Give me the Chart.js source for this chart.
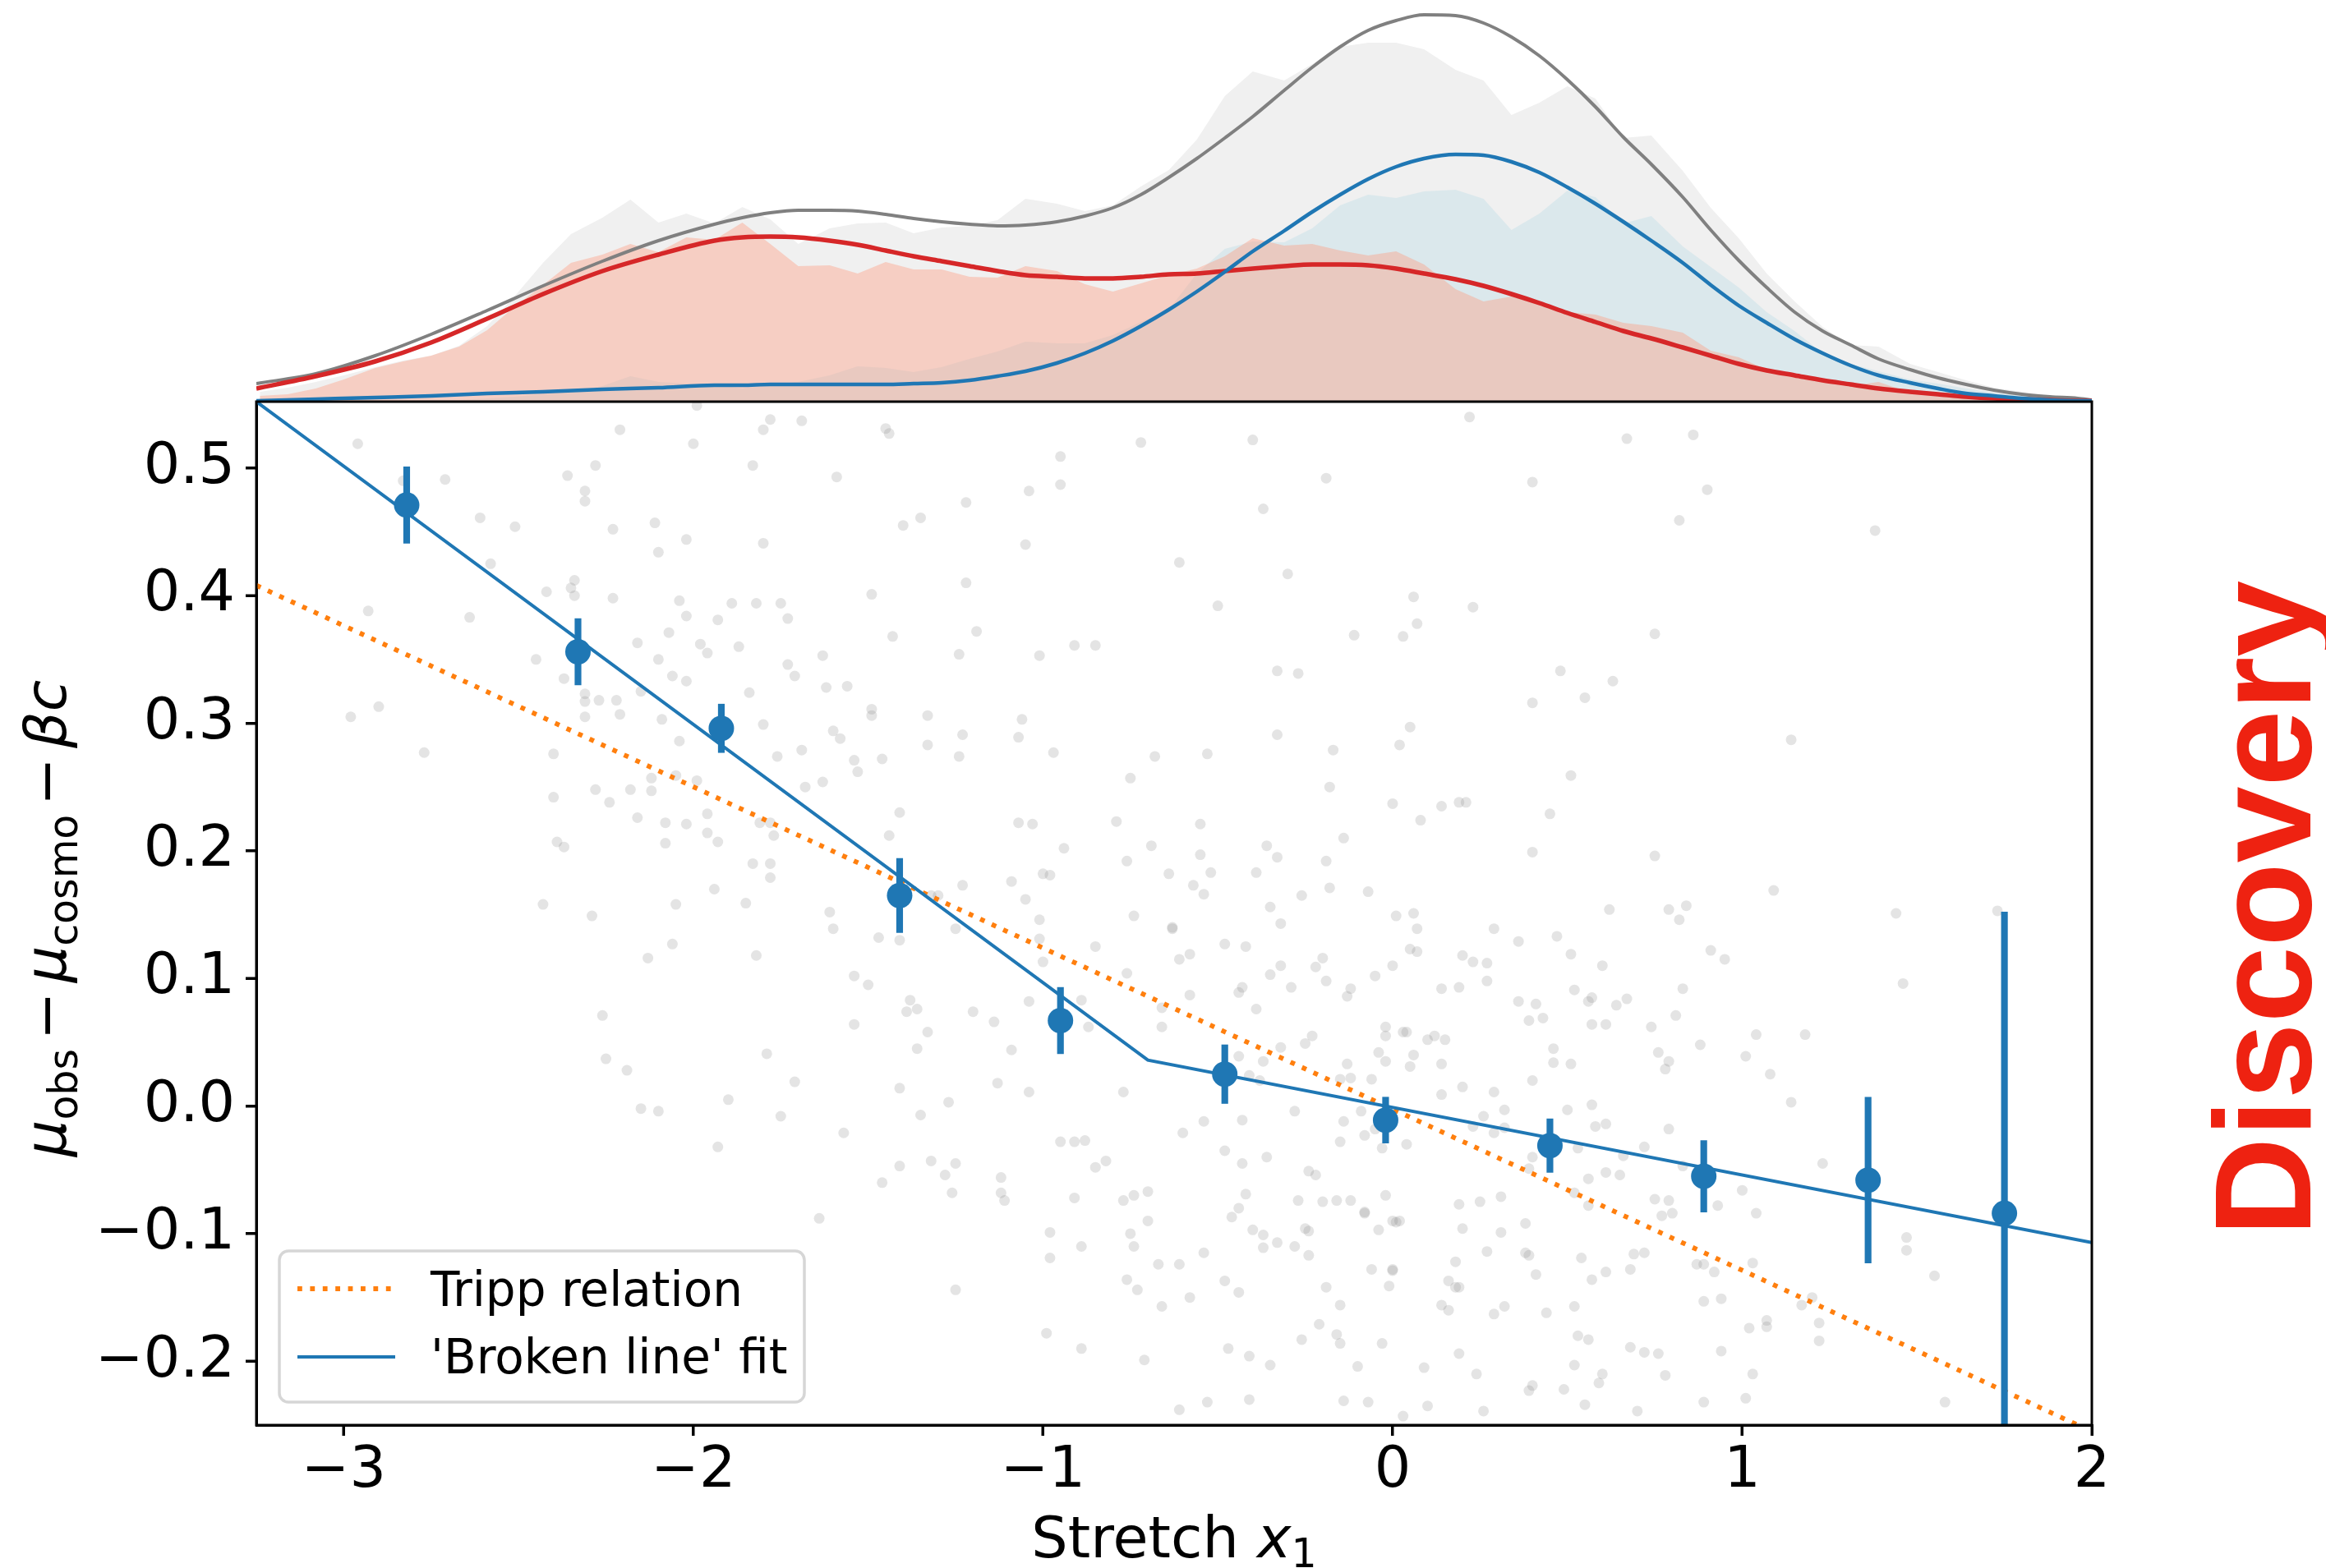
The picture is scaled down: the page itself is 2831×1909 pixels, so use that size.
<!DOCTYPE html>
<html><head><meta charset="utf-8">
<script src="https://cdn.jsdelivr.net/npm/chart.js@4.4.1/dist/chart.umd.min.js"></script>
<style>
html,body{margin:0;padding:0;background:#fff;}
#wrap{position:relative;width:2831px;height:1909px;overflow:hidden;background:#fff;}
canvas{position:absolute;left:0;top:0;}
#top{z-index:0;} #main{z-index:1;}
</style></head><body>
<div id="wrap"><canvas id="top" width="2831" height="489"></canvas><canvas id="main" width="2831" height="1909"></canvas></div>
<script>
// ---------------- DATA ----------------
const xRange = [-3.25, 2.0];
const yRange = [-0.25, 0.552];
const topRange = [0, 0.489];

const xTicks = [-3, -2, -1, 0, 1, 2];
const xTickLabels = ['\u22123', '\u22122', '\u22121', '0', '1', '2'];
const yTicks = [0.5, 0.4, 0.3, 0.2, 0.1, 0.0, -0.1, -0.2];
const yTickLabels = ['0.5', '0.4', '0.3', '0.2', '0.1', '0.0', '\u22120.1', '\u22120.2'];

// binned means with error bars
const binX   = [-2.82, -2.33, -1.92, -1.41, -0.95, -0.48, -0.02, 0.45, 0.89, 1.36, 1.75];
const binY   = [0.471, 0.356, 0.296, 0.165, 0.067, 0.025, -0.011, -0.031, -0.055, -0.058, -0.084];
const binErr = [0.030, 0.026, 0.019, 0.029, 0.026, 0.023, 0.018, 0.021, 0.028, 0.065, 0.236];

// fitted lines
const trippX = [-3.25, 2.0];
const trippY = [0.408, -0.255];
const brokenX = [-3.25, -0.70, 2.0];
const brokenY = [0.552, 0.036, -0.107];

// individual supernovae (x1, residual)
const scatterPoints = [
[-2.96,0.519],[-2.83,0.490],[-2.71,0.491],[-2.61,0.461],[-2.51,0.454],[-2.58,0.425],[-2.93,0.388],[-2.64,0.383],[-2.98,0.305],[-2.90,0.313],[-2.77,0.277],[-2.21,0.530],[-1.99,0.549],[-2.00,0.519],[-1.78,0.538],[-1.80,0.530],[-1.69,0.537],[-1.83,0.502],[-1.59,0.493],[-1.45,0.531],[-1.44,0.527],[-2.28,0.502],[-2.36,0.494],[-2.31,0.482],[-2.31,0.474],[-2.23,0.452],[-2.11,0.457],[-2.02,0.444],[-2.10,0.434],[-1.80,0.441],[-1.40,0.455],[-1.35,0.461],[-2.34,0.412],[-2.35,0.406],[-2.42,0.403],[-2.34,0.400],[-2.23,0.398],[-2.04,0.396],[-1.89,0.394],[-1.82,0.394],[-1.75,0.394],[-2.02,0.384],[-1.93,0.381],[-1.73,0.382],[-2.07,0.371],[-2.16,0.363],[-1.98,0.362],[-1.96,0.355],[-1.87,0.360],[-2.10,0.350],[-2.06,0.337],[-2.02,0.333],[-1.73,0.346],[-1.71,0.337],[-1.63,0.353],[-1.84,0.324],[-1.62,0.328],[-1.56,0.329],[-1.49,0.401],[-1.43,0.368],[-2.45,0.350],[-2.37,0.335],[-2.31,0.323],[-2.31,0.317],[-2.27,0.318],[-2.22,0.318],[-2.15,0.325],[-2.21,0.307],[-2.31,0.305],[-2.09,0.303],[-2.04,0.286],[-1.80,0.299],[-1.69,0.279],[-1.76,0.274],[-1.60,0.294],[-1.58,0.288],[-1.49,0.311],[-1.49,0.306],[-1.46,0.272],[-1.53,0.262],[-1.54,0.271],[-1.63,0.254],[-1.68,0.250],[-1.33,0.306],[-1.23,0.291],[-1.33,0.283],[-1.24,0.274],[-2.40,0.276],[-2.40,0.242],[-2.28,0.248],[-2.24,0.238],[-2.18,0.248],[-2.12,0.247],[-2.12,0.257],[-2.05,0.259],[-1.99,0.255],[-2.16,0.226],[-2.08,0.222],[-2.02,0.221],[-1.96,0.229],[-1.96,0.214],[-2.08,0.206],[-1.93,0.207],[-1.81,0.222],[-1.78,0.222],[-1.77,0.212],[-1.83,0.190],[-1.78,0.190],[-1.78,0.179],[-2.39,0.207],[-2.37,0.203],[-2.43,0.158],[-2.29,0.149],[-2.05,0.158],[-1.94,0.170],[-1.85,0.159],[-2.06,0.127],[-2.13,0.116],[-1.82,0.118],[-1.44,0.212],[-1.23,0.173],[-1.30,0.165],[-1.25,0.139],[-1.61,0.152],[-1.60,0.139],[-1.47,0.132],[-1.41,0.130],[-1.54,0.102],[-1.50,0.095],[-1.38,0.083],[-1.39,0.074],[-1.36,0.076],[-1.33,0.058],[-1.36,0.045],[-1.54,0.064],[-1.20,0.074],[-1.14,0.066],[-1.09,0.044],[-1.13,0.018],[-1.04,0.011],[-1.27,0.003],[-1.35,-0.007],[-1.57,-0.021],[-1.75,-0.008],[-1.71,0.019],[-1.79,0.041],[-1.90,0.005],[-2.10,-0.004],[-2.15,-0.002],[-2.19,0.028],[-2.25,0.037],[-2.26,0.071],[-1.93,-0.032],[-1.32,-0.043],[-1.25,-0.045],[-1.28,-0.054],[-1.26,-0.068],[-1.41,-0.047],[-1.46,-0.060],[-1.64,-0.088],[-1.12,-0.056],[-1.12,-0.068],[-1.11,-0.074],[-0.95,-0.028],[-0.91,-0.028],[-0.88,-0.027],[-0.85,-0.048],[-0.82,-0.043],[-0.91,-0.072],[-0.77,0.011],[-0.98,-0.099],[-0.98,-0.119],[-0.89,-0.110],[-0.77,-0.074],[-0.74,-0.070],[-0.70,-0.067],[-0.70,-0.090],[-0.75,-0.100],[-0.74,-0.110],[-0.67,-0.124],[-0.76,-0.136],[-0.73,-0.144],[-0.66,-0.157],[-0.99,-0.178],[-0.89,-0.190],[-0.71,-0.199],[-1.25,-0.144],[-1.22,0.473],[-1.22,0.410],[-1.19,0.372],[-1.24,0.354],[-1.05,0.440],[-1.04,0.482],[-0.95,0.487],[-0.95,0.509],[-0.72,0.520],[-1.01,0.353],[-0.91,0.361],[-0.85,0.361],[-1.06,0.303],[-1.07,0.289],[-0.97,0.277],[-0.75,0.257],[-0.68,0.274],[-0.79,0.223],[-1.07,0.222],[-1.03,0.221],[-0.94,0.202],[-0.76,0.192],[-0.69,0.204],[-1.09,0.176],[-1.05,0.162],[-1.00,0.182],[-0.98,0.181],[-1.01,0.146],[-0.74,0.149],[-0.64,0.182],[-0.85,0.125],[-0.76,0.104],[-0.66,0.077],[-0.66,0.062],[-0.63,0.139],[-1.00,0.113],[-0.89,0.083],[-0.87,0.062],[-1.04,0.082],[-1.01,0.131],[-1.32,0.165],[-1.41,0.230],[-1.41,0.014],
[-0.40,0.522],[0.22,0.540],[0.67,0.523],[0.86,0.526],[-0.19,0.492],[0.40,0.489],[0.90,0.483],[-0.37,0.468],[0.82,0.459],[1.38,0.451],[-0.61,0.426],[-0.30,0.417],[-0.50,0.392],[0.23,0.391],[0.06,0.399],[0.07,0.378],[0.03,0.368],[-0.11,0.369],[0.75,0.370],[-0.33,0.341],[-0.27,0.339],[0.48,0.341],[0.63,0.333],[0.55,0.320],[0.40,0.316],[1.14,0.287],[-0.33,0.291],[0.05,0.297],[0.02,0.283],[-0.17,0.279],[-0.53,0.276],[0.51,0.259],[-0.18,0.250],[0.00,0.237],[0.19,0.238],[0.21,0.238],[0.14,0.235],[0.08,0.224],[0.45,0.229],[-0.55,0.221],[-0.36,0.204],[-0.33,0.195],[-0.55,0.197],[-0.52,0.183],[-0.19,0.192],[-0.14,0.210],[0.40,0.199],[0.75,0.196],[-0.39,0.183],[-0.57,0.173],[-0.54,0.166],[-0.18,0.171],[-0.07,0.168],[-0.26,0.165],[1.09,0.169],[-0.35,0.156],[-0.32,0.143],[0.01,0.149],[0.06,0.151],[0.07,0.139],[-0.63,0.140],[-0.61,0.115],[-0.58,0.119],[-0.48,0.127],[-0.42,0.125],[0.05,0.123],[0.07,0.121],[0.00,0.110],[-0.19,0.098],[-0.22,0.109],[-0.20,0.116],[-0.05,0.102],[0.20,0.118],[0.23,0.113],[0.27,0.112],[0.27,0.098],[0.29,0.139],[0.36,0.129],[0.47,0.133],[0.51,0.119],[0.60,0.110],[0.62,0.154],[0.79,0.154],[0.84,0.157],[0.82,0.146],[0.91,0.122],[0.95,0.115],[1.44,0.151],[1.46,0.096],[1.73,0.153],[-0.35,0.103],[-0.32,0.110],[-0.43,0.093],[-0.44,0.089],[-0.58,0.087],[-0.29,0.093],[-0.13,0.086],[-0.12,0.092],[-0.39,0.076],[0.14,0.092],[0.19,0.093],[0.36,0.082],[0.41,0.080],[0.39,0.067],[0.43,0.069],[0.52,0.091],[0.56,0.082],[0.57,0.085],[0.64,0.079],[0.67,0.084],[0.57,0.064],[0.61,0.064],[0.74,0.062],[0.83,0.092],[0.81,0.071],[0.88,0.048],[1.04,0.056],[1.18,0.056],[1.01,0.039],[1.08,0.025],[0.76,0.042],[0.79,0.035],[0.78,0.029],[0.46,0.045],[0.46,0.034],[0.51,0.033],[0.40,0.020],[0.14,0.033],[0.05,0.031],[0.06,0.040],[0.10,0.052],[0.12,0.055],[0.15,0.052],[0.04,0.058],[0.03,0.058],[-0.02,0.062],[-0.02,0.055],[-0.02,0.035],[-0.04,0.042],[-0.23,0.055],[-0.25,0.049],[-0.37,0.035],[-0.38,0.020],[-0.41,0.024],[-0.44,0.039],[-0.32,0.046],[-0.13,0.033],[-0.15,0.021],[-0.12,0.022],[-0.06,0.021],[-0.05,-0.018],[-0.09,-0.004],[-0.14,-0.012],[-0.08,-0.023],[-0.03,-0.033],[-0.15,-0.028],[0.04,-0.030],[0.14,0.009],[0.20,0.015],[0.23,-0.016],[0.29,0.011],[0.32,-0.003],[0.26,-0.008],[0.29,-0.021],[0.32,-0.017],[0.40,-0.040],[0.39,-0.049],[0.50,-0.003],[0.57,0.001],[0.58,-0.016],[0.61,-0.014],[0.66,-0.039],[0.72,-0.032],[0.79,-0.018],[0.53,-0.033],[0.52,-0.068],[0.56,-0.057],[0.56,-0.078],[0.61,-0.052],[0.65,-0.054],[0.75,-0.073],[0.79,-0.074],[0.80,-0.084],[0.77,-0.086],[0.83,-0.047],[0.93,-0.078],[1.00,-0.066],[1.04,-0.084],[1.14,0.003],[1.23,-0.045],[1.47,-0.103],[1.47,-0.113],[1.55,-0.133],[1.58,-0.232],[1.20,-0.150],[1.17,-0.156],[1.22,-0.170],[1.22,-0.184],[1.03,-0.123],[1.07,-0.168],[1.07,-0.173],[1.02,-0.174],[0.87,-0.124],[0.89,-0.124],[0.92,-0.130],[0.94,-0.151],[0.89,-0.153],[0.94,-0.192],[0.89,-0.232],[1.01,-0.229],[1.03,-0.210],[0.72,-0.115],[0.69,-0.116],[0.68,-0.128],[0.61,-0.130],[0.57,-0.136],[0.54,-0.119],[0.52,-0.157],[0.53,-0.180],[0.56,-0.183],[0.52,-0.203],[0.60,-0.210],[0.59,-0.217],[0.68,-0.189],[0.72,-0.193],[0.76,-0.194],[0.78,-0.211],[0.70,-0.239],[0.55,-0.234],[0.49,-0.222],[0.40,-0.219],[0.39,-0.223],[0.44,-0.162],[0.41,-0.132],[0.38,-0.115],[0.39,-0.117],[0.38,-0.092],[0.31,-0.071],[0.31,-0.099],[0.27,-0.114],[0.25,-0.075],[0.20,-0.096],[0.19,-0.077],[0.18,-0.122],[0.16,-0.137],[0.18,-0.142],[0.19,-0.142],[0.14,-0.156],[0.16,-0.160],[0.19,-0.194],[0.09,-0.205],[0.24,-0.210],[0.29,-0.163],[0.32,-0.157],[0.26,-0.239],[0.10,-0.235],[0.03,-0.243],[-0.03,-0.186],[-0.01,-0.141],[0.00,-0.129],[0.01,-0.091],[0.00,-0.090],[0.02,-0.090],[-0.04,-0.097],[-0.02,-0.070],[-0.08,-0.084],[-0.08,-0.083],[-0.12,-0.074],[-0.16,-0.074],[-0.20,-0.075],[-0.22,-0.054],[-0.24,-0.051],[-0.28,-0.004],[-0.36,-0.040],[-0.43,-0.045],[-0.46,-0.087],[-0.44,-0.080],[-0.42,-0.069],[-0.40,-0.097],[-0.37,-0.101],[-0.37,-0.111],[-0.33,-0.107],[-0.28,-0.110],[-0.24,-0.117],[-0.25,-0.096],[-0.24,-0.098],[-0.27,-0.074],[-0.19,-0.142],[-0.15,-0.156],[-0.15,-0.186],[-0.16,-0.179],[-0.10,-0.204],[-0.21,-0.171],[-0.26,-0.183],[-0.06,-0.128],[0.00,-0.128],[-0.14,-0.231],[-0.07,-0.232],[-0.35,-0.203],[-0.41,-0.196],[-0.47,-0.190],[-0.48,-0.137],[-0.44,-0.146],[-0.54,-0.115],[-0.61,-0.124],[-0.58,-0.150],[-0.60,-0.021],[-0.54,-0.012],[-0.43,-0.011],[-0.48,-0.035],[-0.41,-0.230],[-0.53,-0.232],[-0.61,-0.238]
];

// top panel: histograms (bin centres) and model curves, density units
const histX = [-3.24,-3.16,-3.08,-3.00,-2.91,-2.83,-2.75,-2.67,-2.59,-2.51,
  -2.43,-2.35,-2.26,-2.18,-2.10,-2.02,-1.94,-1.86,-1.78,-1.70,
  -1.61,-1.53,-1.45,-1.37,-1.29,-1.21,-1.13,-1.05,-0.96,-0.88,
  -0.80,-0.72,-0.64,-0.56,-0.48,-0.40,-0.31,-0.23,-0.15,-0.07,
  0.01,0.09,0.18,0.26,0.34,0.42,0.50,0.58,0.66,0.74,
  0.83,0.91,0.99,1.07,1.15,1.23,1.31,1.39,1.48,1.56,
  1.64,1.72,1.80,1.88,1.96];
const histTotal = [0.012,0.017,0.024,0.032,0.042,0.050,0.056,0.068,0.092,0.129,
  0.169,0.204,0.224,0.246,0.218,0.229,0.217,0.237,0.222,0.192,
  0.211,0.217,0.218,0.205,0.212,0.214,0.221,0.247,0.241,0.232,
  0.239,0.262,0.282,0.319,0.372,0.402,0.391,0.411,0.432,0.437,
  0.437,0.429,0.404,0.391,0.349,0.364,0.384,0.369,0.321,0.324,
  0.281,0.236,0.199,0.156,0.122,0.091,0.069,0.067,0.046,0.036,
  0.026,0.017,0.012,0.007,0.003];
const histRed = [0.007,0.009,0.016,0.027,0.041,0.049,0.056,0.067,0.087,0.116,
  0.142,0.169,0.179,0.192,0.182,0.200,0.197,0.218,0.192,0.165,
  0.166,0.156,0.170,0.161,0.161,0.152,0.151,0.165,0.159,0.143,
  0.134,0.144,0.154,0.162,0.177,0.199,0.190,0.192,0.184,0.178,
  0.183,0.167,0.137,0.122,0.128,0.119,0.109,0.106,0.096,0.092,
  0.084,0.062,0.054,0.039,0.032,0.024,0.019,0.024,0.011,0.007,
  0.004,0.002,0.001,0.001,0.000];
const histBlue = [0.000,0.000,0.000,0.000,0.001,0.001,0.002,0.002,0.004,0.006,
  0.009,0.012,0.019,0.031,0.024,0.022,0.021,0.016,0.021,0.024,
  0.032,0.043,0.041,0.036,0.042,0.052,0.061,0.073,0.071,0.071,
  0.081,0.097,0.112,0.156,0.186,0.195,0.194,0.211,0.239,0.252,
  0.248,0.256,0.258,0.247,0.209,0.229,0.257,0.249,0.217,0.226,
  0.189,0.164,0.139,0.109,0.086,0.059,0.046,0.037,0.027,0.022,
  0.016,0.011,0.007,0.004,0.002];

const curveX = [-3.25,-3.08,-2.91,-2.75,-2.59,-2.43,-2.26,-2.10,-1.94,
  -1.86,-1.78,-1.70,-1.61,-1.53,-1.45,-1.37,-1.29,-1.21,-1.13,-1.05,-0.96,-0.88,
  -0.80,-0.72,-0.64,-0.56,-0.48,-0.40,-0.31,-0.23,-0.15,-0.07,
  0.01,0.09,0.18,0.26,0.34,0.42,0.50,0.58,0.66,0.74,
  0.83,0.91,0.99,1.07,1.15,1.23,1.31,1.39,1.48,1.56,
  1.64,1.72,1.80,1.88,1.96,2.00];
const curveTotal = [0.022,0.034,0.056,0.082,0.111,0.141,0.171,0.196,0.216,
  0.224,0.230,0.233,0.233,0.232,0.228,0.223,0.219,0.216,0.214,0.215,0.219,0.226,
  0.236,0.252,0.273,0.296,0.321,0.347,0.379,0.407,0.432,0.452,
  0.464,0.471,0.470,0.461,0.444,0.421,0.392,0.359,0.322,0.289,
  0.249,0.209,0.172,0.139,0.109,0.086,0.069,0.052,0.039,0.029,
  0.021,0.014,0.009,0.006,0.004,0.002];
const curveRed = [0.016,0.031,0.049,0.072,0.101,0.131,0.159,0.179,0.196,
  0.200,0.201,0.200,0.196,0.191,0.184,0.177,0.171,0.165,0.159,0.154,0.152,0.150,
  0.150,0.152,0.155,0.156,0.159,0.162,0.165,0.167,0.167,0.166,
  0.162,0.156,0.149,0.141,0.131,0.120,0.108,0.097,0.086,0.077,
  0.066,0.056,0.046,0.038,0.032,0.026,0.021,0.016,0.012,0.009,
  0.006,0.004,0.003,0.002,0.001,0.001];
const curveBlue = [0.001,0.003,0.005,0.007,0.010,0.012,0.015,0.017,0.020,
  0.020,0.021,0.021,0.021,0.021,0.021,0.022,0.023,0.026,0.031,0.037,0.047,0.059,
  0.074,0.092,0.112,0.134,0.158,0.183,0.208,0.231,0.252,0.271,
  0.286,0.296,0.301,0.300,0.292,0.279,0.261,0.241,0.219,0.196,
  0.169,0.142,0.117,0.096,0.076,0.059,0.044,0.032,0.023,0.016,
  0.010,0.007,0.004,0.002,0.001,0.001];

// ---------------- STYLE ----------------
const FONT = '"DejaVu Sans", sans-serif';
const C_BLUE = '#1f77b4', C_ORANGE = '#ff7f0e', C_RED = '#d62728';
const pts = (xs, ys) => xs.map((x, i) => ({x: x, y: ys[i]}));

// ---------------- TOP PANEL ----------------
new Chart(document.getElementById('top'), {
  type: 'line',
  data: { datasets: [
    { label: 'Blue population model', data: pts(curveX, curveBlue), borderColor: C_BLUE, borderWidth: 4.5,
      pointRadius: 0, fill: false, cubicInterpolationMode: 'monotone', order: 0 },
    { label: 'Red population model', data: pts(curveX, curveRed), borderColor: C_RED, borderWidth: 5.5,
      pointRadius: 0, fill: false, cubicInterpolationMode: 'monotone', order: 1 },
    { label: 'Total model', data: pts(curveX, curveTotal), borderColor: '#808080', borderWidth: 4,
      pointRadius: 0, fill: false, cubicInterpolationMode: 'monotone', order: 2 },
    { label: 'Red population', data: pts(histX, histRed), borderColor: 'rgba(0,0,0,0)', borderWidth: 0,
      backgroundColor: 'rgba(255,150,120,0.38)', pointRadius: 0, fill: 'origin', tension: 0, order: 3 },
    { label: 'Blue population', data: pts(histX, histBlue), borderColor: 'rgba(0,0,0,0)', borderWidth: 0,
      backgroundColor: 'rgba(173,216,230,0.30)', pointRadius: 0, fill: 'origin', tension: 0, order: 4 },
    { label: 'All', data: pts(histX, histTotal), borderColor: 'rgba(0,0,0,0)', borderWidth: 0,
      backgroundColor: '#f0f0f0', pointRadius: 0, fill: 'origin', tension: 0, order: 5 }
  ]},
  options: {
    responsive: false, animation: false, devicePixelRatio: 1, events: [],
    layout: { padding: { left: 312, right: 285, top: 0, bottom: 0 } },
    plugins: { legend: { display: false }, tooltip: { enabled: false } },
    scales: {
      x: { type: 'linear', display: false, min: xRange[0], max: xRange[1] },
      y: { type: 'linear', display: false, min: topRange[0], max: topRange[1] }
    }
  }
});

// ---------------- MAIN PANEL ----------------
function drawParts(ctx, parts, x, y) {
  let w = 0;
  for (const p of parts) {
    if (p.font) ctx.font = p.font;
    p.w = (p.t ? ctx.measureText(p.t).width : 0) + (p.gap || 0);
    w += p.w;
  }
  let cx = x - w / 2;
  for (const p of parts) {
    if (p.t) { ctx.font = p.font; ctx.fillText(p.t, cx, y + (p.dy || 0)); }
    cx += p.w;
  }
}

const decor = {
  id: 'decor',
  afterDraw(chart) {
    const ctx = chart.ctx, a = chart.chartArea;
    const sx = chart.scales.x, sy = chart.scales.y;
    ctx.save();
    // frame
    ctx.strokeStyle = '#000'; ctx.lineWidth = 3;
    ctx.strokeRect(a.left, a.top, a.right - a.left, a.bottom - a.top);
    // outward tick marks (matplotlib style)
    ctx.beginPath();
    for (const v of xTicks) { const px = Math.round(sx.getPixelForValue(v)); ctx.moveTo(px, a.bottom); ctx.lineTo(px, a.bottom + 13); }
    for (const v of yTicks) { const py = Math.round(sy.getPixelForValue(v)); ctx.moveTo(a.left, py); ctx.lineTo(a.left - 13, py); }
    ctx.stroke();

    // legend
    const lx0 = 340, ly0 = 1523, lx1 = 979, ly1 = 1707, r = 11;
    ctx.beginPath();
    ctx.moveTo(lx0 + r, ly0);
    ctx.arcTo(lx1, ly0, lx1, ly1, r); ctx.arcTo(lx1, ly1, lx0, ly1, r);
    ctx.arcTo(lx0, ly1, lx0, ly0, r); ctx.arcTo(lx0, ly0, lx1, ly0, r);
    ctx.closePath();
    ctx.fillStyle = 'rgba(255,255,255,0.8)'; ctx.fill();
    ctx.strokeStyle = '#d6d6d6'; ctx.lineWidth = 3.5; ctx.stroke();
    const rows = [
      { ds: chart.data.datasets[3], y: 1569, ty: 1590 },
      { ds: chart.data.datasets[2], y: 1652, ty: 1672 }
    ];
    for (const row of rows) {
      ctx.beginPath();
      ctx.setLineDash(row.ds.borderDash || []);
      ctx.lineCap = 'butt';
      ctx.strokeStyle = row.ds.borderColor; ctx.lineWidth = row.ds.borderWidth;
      ctx.moveTo(362, row.y); ctx.lineTo(481, row.y); ctx.stroke();
      ctx.setLineDash([]);
      ctx.fillStyle = '#000'; ctx.font = '58px ' + FONT;
      ctx.textAlign = 'left'; ctx.textBaseline = 'alphabetic';
      ctx.fillText(row.ds.label, 524, row.ty);
    }

    // axis titles
    const R70 = '70px ' + FONT, I70 = 'italic 70px ' + FONT, R49 = '49px ' + FONT;
    ctx.fillStyle = '#000'; ctx.textAlign = 'left'; ctx.textBaseline = 'alphabetic';
    drawParts(ctx, [{t: 'Stretch ', font: R70}, {t: 'x', font: I70}, {t: '1', font: R49, dy: 12}],
      (a.left + a.right) / 2, 1896);
    ctx.save();
    ctx.translate(80, (a.top + a.bottom) / 2 + 6);
    ctx.rotate(-Math.PI / 2);
    drawParts(ctx, [
      {t: '\u03bc', font: I70}, {t: 'obs', font: R49, dy: 14}, {gap: 11},
      {t: '\u2212', font: R70}, {gap: 11},
      {t: '\u03bc', font: I70}, {t: 'cosmo', font: R49, dy: 14}, {gap: 11},
      {t: '\u2212', font: R70}, {gap: 11},
      {t: '\u03b2', font: I70}, {t: 'c', font: I70}
    ], 0, 0);
    ctx.restore();

    // side label
    ctx.save();
    ctx.translate(2812, 1106);
    ctx.rotate(-Math.PI / 2);
    ctx.fillStyle = '#ee2211';
    ctx.font = 'bold 167px "Liberation Sans", Arial, sans-serif';
    ctx.textAlign = 'center'; ctx.textBaseline = 'alphabetic';
    ctx.fillText('Discovery', 0, 0);
    ctx.restore();
    ctx.restore();
  }
};

const gridOpts = () => ({ display: true, drawOnChartArea: false, drawTicks: true, tickLength: 13, tickWidth: 3,
                          tickColor: '#000', color: '#000', lineWidth: 3, offset: false });

new Chart(document.getElementById('main'), {
  type: 'scatter',
  data: { datasets: [
    { type: 'scatter', label: 'Binned mean', data: pts(binX, binY), pointRadius: 15.5,
      pointBackgroundColor: C_BLUE, backgroundColor: C_BLUE, pointBorderWidth: 0, borderWidth: 0, order: 0 },
    { type: 'bar', label: 'Binned error', data: binX.map((x, i) => ({x: x, y: [binY[i] - binErr[i], binY[i] + binErr[i]]})),
      backgroundColor: C_BLUE, borderWidth: 0, barThickness: 7.5, order: 1 },
    { type: 'line', label: "'Broken line' fit", data: pts(brokenX, brokenY), borderColor: C_BLUE, borderWidth: 4,
      pointRadius: 0, fill: false, tension: 0, order: 2 },
    { type: 'line', label: 'Tripp relation', data: pts(trippX, trippY), borderColor: C_ORANGE, borderWidth: 5.8,
      borderDash: [5.8, 9.6], borderCapStyle: 'butt', pointRadius: 0, fill: false, tension: 0, order: 3 },
    { type: 'scatter', label: 'Supernovae', data: scatterPoints.map(p => ({x: p[0], y: p[1]})), pointRadius: 6.5,
      pointBackgroundColor: 'rgba(120,120,120,0.2)', backgroundColor: 'rgba(120,120,120,0.2)',
      pointBorderWidth: 0, borderWidth: 0, order: 4 }
  ]},
  options: {
    responsive: false, animation: false, devicePixelRatio: 1, events: [],
    layout: { padding: { left: 0, right: 285, top: 489, bottom: 0 } },
    plugins: { legend: { display: false }, tooltip: { enabled: false } },
    scales: {
      x: {
        type: 'linear', min: xRange[0], max: xRange[1], offset: false,
        grid: gridOpts(), border: { display: true, color: '#000', width: 3 },
        afterBuildTicks: s => { s.ticks = xTicks.map(v => ({value: v})); },
        afterFit: s => { s.height = 174; },
        ticks: { callback: (v, i) => xTickLabels[i], font: {family: FONT, size: 70}, color: '#000',
                 padding: 2, maxRotation: 0, minRotation: 0, autoSkip: false }
      },
      y: {
        type: 'linear', min: yRange[0], max: yRange[1], offset: false,
        grid: gridOpts(), border: { display: true, color: '#000', width: 3 },
        afterBuildTicks: s => { s.ticks = yTicks.map(v => ({value: v})); },
        afterFit: s => { s.width = 312; },
        ticks: { callback: (v, i) => yTickLabels[i], font: {family: FONT, size: 70}, color: '#000',
                 padding: 13, autoSkip: false }
      }
    }
  },
  plugins: [decor]
});
</script>
</body></html>
